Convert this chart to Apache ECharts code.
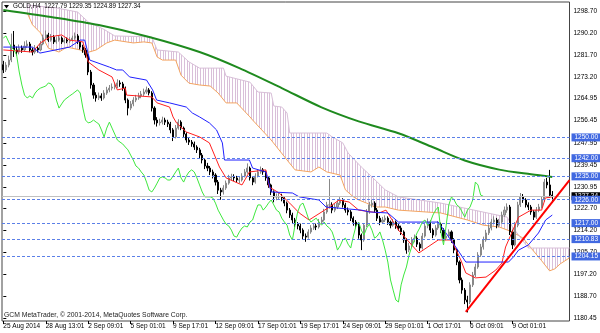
<!DOCTYPE html>
<html><head><meta charset="utf-8">
<script src="https://cdn.jsdelivr.net/npm/echarts@6/dist/echarts.min.js"></script>
<style>html,body{margin:0;padding:0;background:#fff}#c{width:600px;height:333px}</style>
</head><body><div id="c"></div>
<script>
const xTickIndex = [0,16,32,48,64,80,96,112,128,144,160,176,192];
const xTickLabels = ['25 Aug 2014','28 Aug 13:01','2 Sep 09:01','5 Sep 01:01','9 Sep 17:01','12 Sep 09:01','17 Sep 01:01','19 Sep 17:01','24 Sep 09:01','29 Sep 01:01','1 Oct 17:01','6 Oct 09:01','9 Oct 01:01'];
const yTickValues = [1298.70,1290.20,1281.70,1273.20,1264.95,1256.45,1247.95,1239.45,1230.95,1222.70,1214.20,1205.70,1197.20,1188.70,1180.45];
const levels = [1250.00,1242.00,1235.00,1226.00,1217.00,1210.83,1204.15];
const lastPrice = 1227.34;
const header = ['GOLD,H4', '1227.79', '1229.35', '1224.89', '1227.34'];

const opens = [1278.0,1276.0,1277.9,1279.8,1285.6,1283.7,1282.9,1284.4,1283.7,1285.2,
1286.0,1283.7,1282.9,1284.4,1283.7,1286.0,1288.3,1289.5,1287.5,1288.7,
1286.8,1287.5,1288.3,1286.8,1287.5,1287.1,1287.5,1288.3,1289.1,1286.8,
1284.8,1283.7,1281.8,1275.2,1270.2,1266.3,1265.2,1266.0,1265.2,1267.1,
1268.3,1269.0,1269.4,1269.8,1271.0,1270.6,1269.0,1264.4,1261.3,1262.9,
1264.4,1265.2,1266.0,1266.7,1267.5,1268.3,1267.1,1261.3,1256.7,1255.6,
1255.9,1256.7,1255.9,1255.2,1252.9,1250.2,1253.6,1255.9,1253.6,1251.3,
1249.0,1248.2,1247.5,1246.3,1245.2,1243.2,1241.3,1239.0,1238.2,1236.7,
1235.5,1232.8,1229.7,1229.0,1230.5,1232.4,1234.4,1234.8,1234.4,1233.6,
1233.6,1235.1,1236.7,1238.2,1234.4,1232.8,1235.1,1236.7,1237.5,1236.7,
1234.4,1231.7,1229.0,1227.1,1227.1,1227.1,1226.7,1224.7,1222.0,1220.1,
1218.2,1216.6,1215.9,1214.3,1212.0,1211.6,1213.6,1215.1,1215.9,1215.5,
1217.4,1218.2,1221.3,1224.0,1224.0,1222.0,1223.2,1224.7,1225.9,1224.0,
1222.0,1221.3,1218.9,1217.4,1216.2,1212.4,1210.5,1216.2,1221.3,1224.0,
1224.7,1222.0,1218.9,1217.4,1218.2,1218.9,1217.4,1216.2,1217.4,1215.9,
1215.1,1213.6,1210.5,1206.6,1208.2,1210.5,1211.2,1208.9,1207.4,1212.0,
1215.9,1217.4,1214.3,1212.4,1215.1,1216.6,1214.3,1211.2,1212.0,1213.6,
1210.5,1206.6,1202.0,1195.1,1191.2,1187.4,1186.6,1193.2,1197.0,1200.1,
1204.7,1207.8,1210.5,1213.2,1215.1,1217.4,1218.2,1216.2,1217.4,1220.1,
1222.0,1223.2,1213.6,1208.6,1216.2,1224.0,1227.1,1225.9,1224.0,1223.2,
1221.3,1219.3,1222.0,1223.2,1225.9,1232.8,1231.7,1227.79];
const closes = [1276.0,1277.9,1279.8,1285.6,1283.7,1282.9,1284.4,1283.7,1285.2,1286.0,
1283.7,1282.9,1284.4,1283.7,1286.0,1288.3,1289.5,1287.5,1288.7,1286.8,
1287.5,1288.3,1286.8,1287.5,1287.1,1287.5,1288.3,1289.1,1286.8,1284.8,
1283.7,1281.8,1275.2,1270.2,1266.3,1265.2,1266.0,1265.2,1267.1,1268.3,
1269.0,1269.4,1269.8,1271.0,1270.6,1269.0,1264.4,1261.3,1262.9,1264.4,
1265.2,1266.0,1266.7,1267.5,1268.3,1267.1,1261.3,1256.7,1255.6,1255.9,
1256.7,1255.9,1255.2,1252.9,1250.2,1253.6,1255.9,1253.6,1251.3,1249.0,
1248.2,1247.5,1246.3,1245.2,1243.2,1241.3,1239.0,1238.2,1236.7,1235.5,
1232.8,1229.7,1229.0,1230.5,1232.4,1234.4,1234.8,1234.4,1233.6,1233.6,
1235.1,1236.7,1238.2,1234.4,1232.8,1235.1,1236.7,1237.5,1236.7,1234.4,
1231.7,1229.0,1227.1,1227.1,1227.1,1226.7,1224.7,1222.0,1220.1,1218.2,
1216.6,1215.9,1214.3,1212.0,1211.6,1213.6,1215.1,1215.9,1215.5,1217.4,
1218.2,1221.3,1224.0,1224.0,1222.0,1223.2,1224.7,1225.9,1224.0,1222.0,
1221.3,1218.9,1217.4,1216.2,1212.4,1210.5,1216.2,1221.3,1224.0,1224.7,
1222.0,1218.9,1217.4,1218.2,1218.9,1217.4,1216.2,1217.4,1215.9,1215.1,
1213.6,1210.5,1206.6,1208.2,1210.5,1211.2,1208.9,1207.4,1212.0,1215.9,
1217.4,1214.3,1212.4,1215.1,1216.6,1214.3,1211.2,1212.0,1213.6,1210.5,
1206.6,1202.0,1195.1,1191.2,1187.4,1186.6,1193.2,1197.0,1200.1,1204.7,
1207.8,1210.5,1213.2,1215.1,1217.4,1218.2,1216.2,1217.4,1220.1,1222.0,
1223.2,1213.6,1208.6,1216.2,1224.0,1227.1,1225.9,1224.0,1223.2,1221.3,
1219.3,1222.0,1223.2,1225.9,1232.8,1231.7,1227.8,1227.34];
const lows = [1274.8,1275.2,1277.0,1279.0,1281.0,1281.5,1282.0,1282.6,1283.0,1284.5,
1282.8,1281.6,1282.2,1282.7,1283.2,1285.5,1287.6,1286.8,1286.9,1286.0,
1286.1,1286.9,1286.0,1286.2,1286.3,1286.4,1286.9,1287.6,1286.0,1283.9,
1282.6,1280.7,1274.0,1268.8,1264.9,1263.8,1264.4,1264.1,1264.6,1266.4,
1267.4,1268.1,1268.5,1269.0,1269.5,1268.0,1263.2,1258.5,1260.5,1262.0,
1263.6,1264.5,1265.1,1265.9,1266.8,1266.2,1260.0,1255.0,1254.2,1254.6,
1255.0,1254.8,1254.0,1251.6,1248.6,1249.6,1253.0,1252.8,1250.2,1248.0,
1247.1,1246.4,1245.2,1244.0,1242.0,1240.0,1237.8,1237.0,1235.5,1234.2,
1231.5,1228.2,1226.0,1228.0,1229.8,1231.8,1233.5,1233.2,1232.5,1232.4,
1233.0,1234.6,1236.0,1233.4,1231.6,1232.2,1234.6,1236.0,1235.6,1233.3,
1230.6,1227.8,1225.0,1225.8,1225.9,1225.4,1223.5,1220.8,1219.0,1217.0,
1215.4,1214.6,1213.1,1210.6,1209.8,1211.0,1212.9,1214.4,1214.3,1214.9,
1216.6,1217.6,1220.6,1222.6,1220.8,1221.2,1222.4,1224.0,1223.0,1221.0,
1220.0,1217.8,1216.0,1215.0,1211.0,1206.6,1209.8,1215.5,1220.6,1223.0,
1221.0,1217.8,1216.2,1216.8,1217.4,1216.3,1215.0,1215.6,1214.8,1214.0,
1212.4,1209.4,1205.2,1205.8,1207.6,1209.6,1207.8,1206.2,1206.8,1211.4,
1215.0,1213.2,1211.2,1211.8,1214.4,1213.2,1210.0,1210.4,1211.4,1209.4,
1205.4,1200.8,1193.8,1189.8,1185.8,1182.6,1185.8,1192.4,1196.2,1199.4,
1204.0,1206.8,1209.8,1212.4,1214.2,1216.6,1215.0,1215.4,1216.8,1219.4,
1221.0,1212.4,1207.0,1208.0,1215.4,1223.2,1224.8,1223.0,1222.0,1220.2,
1218.2,1218.6,1221.2,1222.6,1225.2,1230.4,1226.8,1224.89];
const highs = [1279.5,1279.0,1281.5,1290.0,1291.0,1285.0,1285.8,1285.4,1287.0,1287.4,
1286.8,1284.6,1285.6,1285.2,1287.2,1289.6,1291.2,1290.3,1289.8,1289.4,
1288.6,1289.3,1288.9,1288.4,1288.5,1288.6,1289.2,1290.4,1289.8,1287.5,
1285.7,1284.4,1282.4,1276.0,1271.0,1267.4,1267.3,1267.0,1268.2,1269.5,
1270.2,1270.8,1271.2,1272.4,1272.0,1271.4,1269.6,1265.0,1264.0,1265.5,
1266.4,1267.2,1267.9,1268.8,1269.6,1269.0,1267.8,1262.0,1257.8,1257.2,
1258.0,1257.6,1256.8,1256.0,1253.6,1254.8,1257.0,1256.6,1254.2,1252.0,
1250.0,1249.0,1248.4,1247.0,1246.0,1244.0,1242.0,1240.2,1239.0,1237.6,
1236.2,1233.6,1230.6,1231.6,1233.4,1235.6,1236.0,1235.8,1235.2,1234.8,
1236.2,1237.8,1240.0,1238.8,1235.0,1236.2,1237.8,1238.8,1238.2,1237.2,
1235.0,1232.2,1229.6,1228.4,1228.6,1228.3,1227.4,1225.3,1222.8,1221.0,
1219.0,1217.4,1216.8,1215.0,1213.0,1214.6,1216.2,1217.0,1216.8,1218.6,
1219.4,1222.5,1225.2,1234.0,1225.0,1224.4,1225.8,1227.0,1226.6,1224.8,
1223.0,1222.0,1219.6,1218.2,1217.0,1213.0,1217.0,1222.4,1225.2,1226.0,
1225.4,1222.8,1219.8,1219.4,1220.0,1219.6,1218.0,1218.6,1218.0,1216.8,
1216.0,1214.2,1211.2,1209.4,1211.6,1212.6,1212.0,1209.6,1213.2,1217.0,
1218.8,1218.0,1215.0,1216.2,1217.8,1217.2,1215.0,1213.2,1214.6,1214.2,
1211.2,1207.2,1202.6,1196.0,1192.0,1189.0,1194.2,1198.2,1201.4,1205.8,
1209.0,1211.8,1214.4,1216.4,1218.6,1219.6,1219.0,1218.6,1221.4,1223.4,
1224.6,1224.0,1214.4,1217.4,1225.2,1228.6,1228.2,1226.6,1225.0,1224.0,
1222.0,1223.2,1224.4,1227.2,1234.0,1234.4,1237.5,1229.35];

// indicator lines as [barIndex, price] vertices
const maLine = [[0,1299.1],[18,1296.4],[36,1293.3],[55,1288.7],[74,1282.9],[89,1276.7],[105,1269.0],[120,1261.6],[134,1256.2],[149,1251.6],[162,1246.2],[174,1241.1],[187,1237.6],[199,1235.8],[207,1234.8]];
const tenkan = [[0,1283.7],[11,1282.9],[14,1286.4],[17.5,1288.7],[22,1289.5],[25,1287.5],[30,1286.8],[32,1279.1],[36,1276.0],[41,1273.3],[43,1268.3],[46,1269.0],[46.5,1266.3],[56,1265.6],[58,1263.3],[62.7,1261.7],[64,1257.9],[65.3,1255.6],[69,1252.1],[74,1250.2],[77.7,1247.9],[81.5,1238.6],[84,1234.4],[90,1231.7],[92.8,1236.7],[99,1237.5],[100.3,1230.9],[104,1228.6],[108,1224.7],[111.6,1220.9],[115.3,1218.2],[123,1223.2],[126.6,1225.9],[130.4,1225.1],[134,1222.0],[141.7,1220.9],[144.3,1222.0],[149,1214.3],[156.7,1205.5],[164,1210.5],[169,1210.5],[172.5,1202.8],[174.4,1197.8],[178,1195.9],[182,1196.2],[185.7,1198.9],[188,1201.6],[189.4,1207.8],[191.7,1213.2],[194.3,1219.3],[199,1222.0],[203,1222.0],[204.4,1226.7],[207,1227.1]];
const kijun = [[0,1284.8],[11,1284.8],[13.8,1282.5],[25,1284.8],[29,1287.5],[30.7,1287.5],[32.6,1279.8],[40,1277.1],[42.7,1276.0],[45,1276.0],[47.6,1273.3],[54,1272.1],[56.3,1268.3],[57.8,1264.4],[62.7,1263.3],[69,1261.7],[71.3,1259.4],[74,1257.9],[77.7,1255.6],[80.4,1252.9],[82.6,1247.9],[83.4,1241.3],[92.8,1241.3],[94,1238.2],[99,1236.7],[101,1229.0],[109,1228.6],[111.6,1227.1],[119,1225.9],[121.7,1223.2],[135,1222.0],[138,1221.3],[145,1220.9],[149,1217.4],[164,1217.4],[170.6,1207.8],[174.4,1202.0],[190.5,1202.0],[192.4,1204.0],[194.3,1206.6],[198,1208.6],[201.8,1213.2],[204.5,1218.2],[207,1220.1]];
const spanB = [[9,1301.0],[20,1299.9],[28,1298.3],[32,1294.5],[38,1291.6],[42,1289.1],[56,1288.7],[58,1283.7],[66,1282.9],[70,1279.1],[74,1276.7],[83,1276.7],[84,1273.6],[93,1271.3],[96,1267.5],[101,1267.1],[102,1262.1],[105,1261.7],[107,1259.4],[108,1251.7],[122,1251.7],[124,1250.2],[128,1247.9],[130,1244.0],[135,1238.6],[139,1234.8],[144,1229.8],[149,1227.1],[165,1224.7],[190,1219.3],[192,1215.5],[198,1207.4],[213.5,1207.4]];
const spanA = [[9,1298.0],[11,1293.4],[14,1290.3],[17,1284.4],[21,1282.9],[24,1284.8],[29,1283.7],[31,1282.5],[35,1283.7],[39,1286.4],[42,1287.5],[49,1286.4],[53,1286.8],[56,1286.4],[58,1281.0],[60,1279.8],[65,1279.8],[67,1274.0],[70,1270.9],[74,1270.2],[78,1269.8],[81,1267.1],[84,1263.3],[88,1263.3],[93,1257.9],[94,1256.7],[101,1249.0],[107,1241.3],[110,1237.5],[116,1236.7],[119,1238.6],[122,1236.7],[127,1235.5],[129,1229.8],[132,1227.1],[134,1225.9],[137,1224.7],[140,1223.2],[144,1223.2],[149,1222.0],[165,1220.9],[175,1218.2],[181,1216.2],[187,1215.5],[192,1213.6],[196,1211.2],[199,1207.4],[203,1202.5],[206,1198.6],[208,1199.4],[210,1201.3],[213.5,1203.6]];
const trend = [[174.4,1182.8],[213.5,1233.6]];
const chikouShift = 26;

const N = 214;
const cats = Array.from({length: N}, (_, i) => String(i));
const candleData = opens.map((o, i) => [o, closes[i], lows[i], highs[i]]);
const chikou = closes.slice(chikouShift).map((v, k) => [k, v]);

const pc = document.createElement('canvas');
pc.width = 8; pc.height = 4;
const g = pc.getContext('2d');
g.fillStyle = '#d9bfd9';
[0, 3, 5].forEach(x => g.fillRect(x, 0, 1, 4));

const FONT = '"Liberation Sans", Arial, sans-serif';
const chart = echarts.init(document.getElementById('c'), null, {renderer: 'canvas'});

const levelMarks = levels.map(v => ({
  yAxis: v,
  lineStyle: {color: '#5b7fe8', type: [3, 2], width: 1},
  label: {show: true, position: 'end', formatter: v.toFixed(2), color: '#fff', backgroundColor: '#4169e1',
          fontSize: 6.5, fontFamily: FONT, padding: [1, 3, 0, 3], distance: 2}
}));
levelMarks.unshift({
  yAxis: lastPrice,
  lineStyle: {color: '#c0c0c0', type: 'solid', width: 1},
  label: {show: true, position: 'end', formatter: lastPrice.toFixed(2), color: '#fff', backgroundColor: '#000',
          fontSize: 6.5, fontFamily: FONT, padding: [1, 3, 0, 3], distance: 2}
});

const thin = (name, data, color, width, z, smooth) => ({
  name, type: 'line', xAxisIndex: 1, yAxisIndex: 0, data, showSymbol: false, symbol: 'none',
  smooth: smooth || false, lineStyle: {color, width}, z, silent: true, clip: true
});

chart.setOption({
  animation: false,
  backgroundColor: '#fff',
  grid: {left: 2, top: 2, right: 29, bottom: 12, show: true, borderColor: '#444', borderWidth: 1, backgroundColor: '#fff'},
  xAxis: [{
    type: 'category', data: cats, boundaryGap: true,
    axisLine: {show: false},
    axisTick: {show: true, alignWithLabel: true, length: 3, interval: (i) => xTickIndex.includes(i), lineStyle: {color: '#000'}},
    axisLabel: {interval: (i) => xTickIndex.includes(i), align: 'left', margin: 2, fontSize: 6.5, fontFamily: FONT, color: '#000',
      formatter: (v) => { const k = xTickIndex.indexOf(Number(v)); return k >= 0 ? xTickLabels[k] : ''; }},
    splitLine: {show: false}
  }, {
    type: 'value', min: -0.5, max: N - 0.5, show: false
  }],
  yAxis: [{
    type: 'value', position: 'right', min: 1179.29, max: 1302.17, scale: true,
    axisLine: {show: false},
    splitLine: {show: false},
    axisTick: {show: true, length: 3, customValues: yTickValues, lineStyle: {color: '#000'}},
    axisLabel: {customValues: yTickValues, margin: 4, fontSize: 6.5, fontFamily: FONT, color: '#000',
      formatter: (v) => v.toFixed(2)}
  }],
  graphic: [
    {type: 'polygon', shape: {points: [[4, 5], [9, 5], [6.5, 8.5]]}, style: {fill: '#000'}, z: 100},
    {type: 'text', left: 13, top: 3, z: 100, style: {text: header[0] + '  ' + header.slice(1).join(' '), font: '6.3px ' + FONT, fill: '#000'}},
    {type: 'text', left: 4, top: 312, z: 100, style: {text: 'GCM MetaTrader, \u00a9 2001-2014, MetaQuotes Software Corp.', font: '6.8px ' + FONT, fill: '#222'}}
  ],
  series: [
    {
      type: 'custom', xAxisIndex: 1, yAxisIndex: 0, z: 1, silent: true, clip: true,
      data: [[0, 1250]],
      renderItem: (params, api) => {
        const pts = spanB.map(p => api.coord(p));
        for (let k = spanA.length - 1; k >= 0; k--) pts.push(api.coord(spanA[k]));
        return {type: 'polygon', shape: {points: pts}, style: {fill: {image: pc, repeat: 'repeat'}}};
      }
    },
    thin('spanA', spanA, '#f4a460', 1, 2),
    thin('spanB', spanB, '#d8bfd8', 1, 2),
    {
      type: 'candlestick', xAxisIndex: 0, yAxisIndex: 0, data: candleData, barWidth: 1.6, z: 3, silent: true,
      itemStyle: {color: '#a8a8a8', color0: '#000', borderColor: '#888', borderColor0: '#000', borderWidth: 1},
      markLine: {symbol: ['none', 'none'], silent: true, animation: false, data: levelMarks}
    },
    thin('ma', maLine, '#1e8a1e', 2, 4, 0.3),
    thin('tenkan', tenkan, '#ff2020', 1, 4),
    thin('kijun', kijun, '#2020ff', 1, 4),
    thin('chikou', chikou, '#3ee83e', 1, 4),
    thin('trend', trend, '#ff0000', 2, 5)
  ]
});
</script></body></html>
